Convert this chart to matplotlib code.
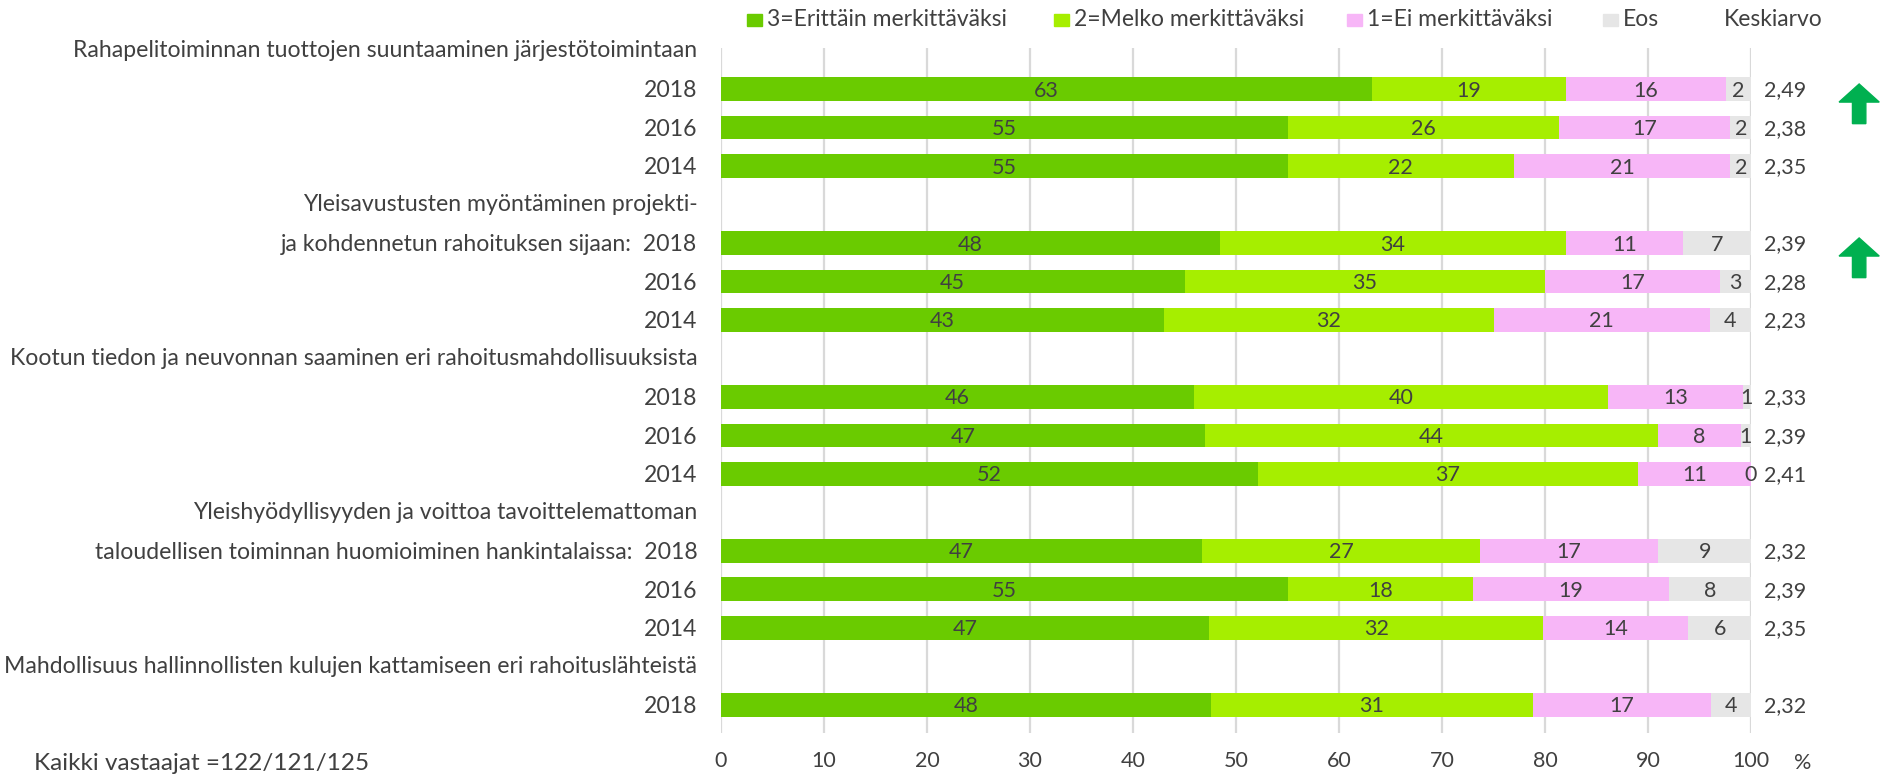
import matplotlib.pyplot as plt
from matplotlib.patches import Rectangle, Polygon

plt.rcParams['font.family'] = ['Lato', 'DejaVu Sans']
txt = '#404040'

# category headers, second-line prefixes and years per group
headers = ['Rahapelitoiminnan tuottojen suuntaaminen järjestötoimintaan',
           'Yleisavustusten myöntäminen projekti-',
           'Kootun tiedon ja neuvonnan saaminen eri rahoitusmahdollisuuksista',
           'Yleishyödyllisyyden ja voittoa tavoittelemattoman',
           'Mahdollisuus hallinnollisten kulujen kattamiseen eri rahoituslähteistä']
prefixes = ['', 'ja kohdennetun rahoituksen sijaan:  ', '',
            'taloudellisen toiminnan huomioiminen hankintalaissa:  ', '']
years = [['2018', '2016', '2014'], ['2018', '2016', '2014'],
         ['2018', '2016', '2014'], ['2018', '2016', '2014'], ['2018']]
arrow_groups = [0, 1]

# percentages per bar (top to bottom)
v3 = [63.2, 55.0, 55.0, 48.4, 45.0, 43.0, 45.9, 47.0, 52.1, 46.7, 55.0, 47.4, 47.6]
v2 = [18.8, 26.4, 22.0, 33.6, 35.0, 32.0, 40.2, 44.0, 36.9, 27.0, 18.0, 32.4, 31.2]
v1 = [15.6, 16.6, 21.0, 11.4, 17.0, 21.0, 13.1, 8.0, 11.0, 17.3, 19.0, 14.1, 17.3]
eos = [2.4, 2.0, 2.0, 6.6, 3.0, 4.0, 0.8, 1.0, 0.0, 9.0, 8.0, 6.1, 3.9]
means = ['2,49', '2,38', '2,35', '2,39', '2,28', '2,23', '2,33', '2,39', '2,41',
         '2,32', '2,39', '2,35', '2,32']

series = [('3=Erittäin merkittäväksi', v3, '#6ACB00'),
          ('2=Melko merkittäväksi', v2, '#A6EE00'),
          ('1=Ei merkittäväksi', v1, '#F7B6F7'),
          ('Eos', eos, '#E6E6E6')]

W, H = 1885, 777
fs_lab, fs_num, fs_leg = 16.6, 15.5, 16.5
fig = plt.figure(figsize=(W / 100, H / 100), dpi=100)
ax = fig.add_axes([721 / W, 1 - 733 / H, (1751 - 721) / W, (733 - 48) / H])

# row layout
bar_rows, bar_labels, arrow_rows = [], [], []
row = 0
for g, head in enumerate(headers):
    ax.text(-2.3, row, head, ha='right', va='center', fontsize=fs_lab, color=txt)
    row += 1
    for k, y in enumerate(years[g]):
        bar_rows.append(row)
        bar_labels.append((prefixes[g] if k == 0 else '') + y)
        if k == 0 and g in arrow_groups:
            arrow_rows.append(row)
        row += 1

left = [0.0] * len(bar_rows)
for name, vals, col in series:
    ax.barh(bar_rows, vals, left=left, height=0.62, color=col, linewidth=0)
    for r, l, v in zip(bar_rows, left, vals):
        ax.text(l + v / 2, r + 0.04, f'{v:.0f}', ha='center', va='center',
                fontsize=fs_num, color=txt)
    left = [a + b for a, b in zip(left, vals)]

for r, m in zip(bar_rows, means):
    ax.text(101.3, r + 0.04, m, ha='left', va='center', fontsize=fs_num, color=txt)

# green up arrows
for r in arrow_rows:
    cx, top, bot = 110.5, r - 0.13, r + 0.9
    hw, sw, hh = 1.95, 0.65, 0.47
    pts = [(cx, top), (cx + hw, top + hh), (cx + sw, top + hh), (cx + sw, bot),
           (cx - sw, bot), (cx - sw, top + hh), (cx - hw, top + hh)]
    ax.add_patch(Polygon(pts, closed=True, color='#00B050', clip_on=False))

ax.set_xlim(0, 100)
ax.set_ylim(row - 1 + 0.73, -0.065)
ax.set_yticks(bar_rows, bar_labels)
ax.set_xticks(range(0, 101, 10))
ax.tick_params(axis='y', length=0, pad=17, labelsize=fs_lab, labelcolor=txt)
ax.tick_params(axis='x', length=0, pad=13, labelsize=fs_num, labelcolor=txt)
ax.grid(axis='x', color='#D9D9D9', linewidth=1.6)
ax.set_axisbelow(True)
for s in ax.spines.values():
    s.set_visible(False)

ax.text(105, -0.044, '%', transform=ax.get_xaxis_transform(), ha='center',
        va='center', fontsize=fs_num, color=txt)
fig.text(34 / W, 1 - 763 / H, 'Kaikki vastaajat =122/121/125', ha='left',
         va='center', fontsize=17.5, color=txt)

# legend
leg_x = [747, 1054, 1347, 1603]
for (name, vals, col), x in zip(series, leg_x):
    fig.add_artist(Rectangle((x / W, 1 - 26 / H), 15 / W, 12 / H,
                             transform=fig.transFigure, color=col))
    fig.text((x + 20) / W, 1 - 20 / H, name, ha='left', va='center',
             fontsize=fs_leg, color=txt)
fig.text(1773 / W, 1 - 20 / H, 'Keskiarvo', ha='center', va='center',
         fontsize=fs_leg, color=txt)

fig.savefig('out.png', dpi=100)
